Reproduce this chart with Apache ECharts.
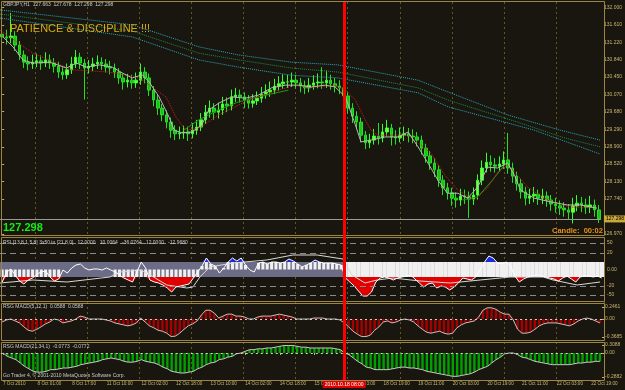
<!DOCTYPE html>
<html><head><meta charset="utf-8">
<script src="https://cdn.jsdelivr.net/npm/echarts@6/dist/echarts.min.js"></script>
<style>html,body{margin:0;padding:0;background:#19160f;}#c{width:625px;height:390px;}</style>
</head><body><div id="c"></div><script>
// ---------- data ----------
const timeLabels = ['7 Oct 2010','8 Oct 01:00','8 Oct 17:00','11 Oct 10:00','12 Oct 02:00','12 Oct 18:00','13 Oct 10:00','14 Oct 02:00','14 Oct 18:00','15 Oct 10:00','18 Oct 03:00','18 Oct 19:00','19 Oct 11:00','20 Oct 03:00','20 Oct 19:00','21 Oct 11:00','22 Oct 03:00','22 Oct 19:00'];
const firstOpen = 131.40;
const closes = [
131.34,131.32,131.36,131.16,130.94,130.78,130.74,130.78,130.81,130.76,
130.83,130.76,130.69,130.56,130.50,130.61,130.74,130.89,130.76,130.65,
130.69,130.74,130.78,130.74,130.67,130.65,130.56,130.43,130.34,130.38,
130.32,130.38,130.56,130.43,130.16,129.94,129.76,129.61,129.45,129.27,
129.19,129.21,129.23,129.19,129.27,129.34,129.50,129.67,129.76,129.67,
129.72,129.85,129.81,130.01,130.05,130.01,129.94,129.87,129.92,129.98,
130.07,130.12,130.16,130.25,130.30,130.34,130.34,130.38,130.32,130.25,
130.21,130.27,130.32,130.34,130.32,130.38,130.30,130.25,130.21,130.03,
129.76,129.58,129.45,129.16,128.99,129.05,129.14,129.10,129.23,129.32,
129.12,129.10,129.16,129.19,129.14,129.12,129.05,128.87,128.70,128.54,
128.39,128.16,127.99,127.88,127.76,127.72,127.81,127.79,127.74,127.83,
128.16,128.43,128.56,128.50,128.47,128.52,128.61,128.43,128.25,128.08,
127.90,127.76,127.81,127.85,127.76,127.81,127.72,127.63,127.59,127.54,
127.50,127.45,127.59,127.65,127.61,127.56,127.61,127.50,127.30];
const highs = [
131.54,131.50,131.87,131.47,131.25,131.04,130.91,130.95,130.97,130.93,
131.00,130.95,130.87,130.79,130.67,130.75,130.90,131.05,130.99,130.85,
130.83,130.88,130.93,130.89,130.85,130.81,130.75,130.65,130.53,130.52,
130.50,130.55,130.75,130.67,130.53,130.25,130.05,129.85,129.71,129.55,
129.38,129.35,129.37,129.35,129.43,129.50,129.65,129.83,129.93,129.87,
129.88,130.01,130.00,130.17,130.21,130.17,130.11,130.05,130.07,130.13,
130.23,130.29,130.35,130.41,130.47,130.51,130.50,130.55,130.50,130.43,
130.37,130.43,130.49,130.53,130.67,130.60,130.50,130.43,130.38,130.31,
130.13,129.87,129.69,129.55,129.25,129.19,129.30,129.43,129.41,129.50,
129.41,129.27,129.33,129.35,129.32,129.29,129.23,129.15,128.97,128.81,
128.65,128.49,128.27,128.10,127.99,127.89,127.97,127.95,127.91,128.00,
128.29,128.60,128.77,128.71,128.65,128.69,128.80,129.21,128.55,128.35,
128.19,128.01,127.97,128.01,127.95,127.97,127.91,127.83,127.77,127.71,
127.67,127.63,127.77,127.83,127.79,127.75,127.81,127.73,127.61];
const lows = [
131.19,131.17,131.20,131.03,130.83,130.65,130.60,130.63,130.67,130.61,
130.67,130.63,130.55,130.43,130.39,130.41,130.52,130.65,130.63,129.95,
130.53,130.58,130.63,130.61,130.55,130.51,130.43,130.30,130.17,130.22,
130.19,130.21,130.28,130.31,130.03,129.80,129.61,129.47,129.31,129.10,
129.05,129.07,129.08,129.03,129.09,129.17,129.25,129.41,129.55,129.50,
129.53,129.61,129.67,129.71,129.90,129.88,129.76,129.75,129.77,129.83,
129.88,129.97,130.01,130.07,130.15,130.19,130.21,130.23,130.19,130.11,
130.07,130.11,130.17,130.20,130.19,130.21,130.17,130.11,130.07,129.90,
129.63,129.43,129.29,129.00,128.85,128.87,128.95,128.95,129.00,129.13,
128.93,128.95,129.00,129.03,129.00,128.98,128.91,128.73,128.55,128.39,
128.23,128.01,127.83,127.73,127.59,127.55,127.59,127.63,127.32,127.61,
127.73,128.05,128.33,128.35,128.33,128.35,128.41,128.30,128.10,127.93,
127.75,127.60,127.63,127.67,127.61,127.63,127.57,127.48,127.44,127.39,
127.35,127.29,127.20,127.47,127.45,127.41,127.43,127.35,127.21];
const currentPrice = 127.298;
const priceTicks = [132.000,131.610,131.220,130.840,130.450,130.070,129.680,129.290,128.900,128.520,128.130,127.740,126.970];
// moving averages, read as [bar position, price]
const grayMA = [[0.2,131.34],[2.5,131.12],[4.8,130.83],[7.1,130.76],[11,130.78],[14.9,130.65],[17.2,130.76],[19.5,130.67],[22.5,130.72],[25.5,130.67],[27.8,130.54],[30.1,130.43],[32.4,130.50],[34,130.34],[36.3,130.01],[38.6,129.56],[39.8,129.27],[41.6,129.21],[43.9,129.23],[46.2,129.39],[47.8,129.72],[50.1,129.87],[53.1,130.01],[56.3,129.98],[59.3,130.05],[62.3,130.21],[65.5,130.27],[68.5,130.27],[71.5,130.23],[74.7,130.27],[77,130.23],[79.4,130.01],[81.7,129.39],[83,129.01],[85.3,129.05],[88.6,129.12],[91.6,129.12],[93.9,129.23],[96.2,128.90],[98.5,128.54],[100.8,128.16],[103,127.87],[105.4,127.87],[107.7,127.76],[110,128.01],[112.3,128.45],[114.6,128.43],[116.9,128.54],[118.5,128.27],[119.9,127.94],[123.1,127.76],[126.8,127.68],[130.7,127.61],[133.7,127.61],[137.6,127.54]];
const redMA = [[-0.5,131.49],[7.1,130.98],[16.3,130.61],[24.8,130.56],[31.7,130.43],[37.9,130.01],[40.2,129.56],[42.5,129.27],[45.5,129.32],[50.1,129.61],[57,129.94],[63.9,130.16],[67.8,130.27],[70.8,130.21],[77,130.27],[79.4,130.16],[81.7,129.94],[84,129.50],[85.3,129.27],[86.9,129.16],[93.8,129.16],[96.2,128.99],[99.2,128.76],[102.4,128.27],[105.4,127.94],[109.3,127.72],[112.3,127.99],[114.6,128.34],[116.9,128.50],[119.2,128.27],[121.5,128.01],[125.4,127.76],[128.4,127.65],[131.4,127.56],[136.9,127.56]];
const greenMA1 = [[42,129.27],[45.5,129.50],[50.1,129.72],[54.7,129.90],[59.3,130.01],[66.2,130.16]];
const greenMA2 = [[106.5,127.72],[110,127.79],[113.4,128.16],[116.2,128.50]];
const envelope1 = [[-0.5,131.94],[30.1,131.61],[45.5,131.12],[54.7,130.94],[66.9,130.78],[77.7,130.72],[96.2,130.38],[103.1,130.12],[116.9,129.61],[129.1,129.27],[138.3,129.05]];
const envelope2 = [[-0.5,131.85],[30.1,131.47],[45.5,130.98],[54.7,130.83],[66.9,130.65],[77.7,130.56],[96.2,130.21],[103.1,129.94],[119.2,129.45],[130,129.10],[138.3,128.90]];
const envelope3 = [[-0.5,131.76],[30.1,131.34],[45.5,130.83],[54.7,130.67],[66.9,130.49],[77.7,130.43],[96.2,130.10],[103.1,129.79],[123.1,129.27],[138.3,128.74]];
// RSI panel
const rsi = [
-25,-5,1,-11,-23,-29,-21,-17,-9,-5,
-3,-15,-23,-19,-1,-7,3,9,11,3,
-1,1,1,-1,3,-1,-5,-11,-17,-21,
-25,-5,15,3,-21,-25,-27,-31,-37,-45,
-35,-33,-31,-29,-17,-5,7,23,11,7,
-7,3,15,23,17,23,9,-1,-5,13,
15,11,15,15,13,15,21,17,11,5,
9,13,19,15,13,13,13,11,9,-17,
-25,-33,-43,-53,-53,-45,-25,-17,-15,-17,
-21,-17,-15,-13,-11,-19,-27,-35,-29,-27,
-37,-33,-35,-41,-35,-27,-17,-19,-21,-15,
-1,15,27,23,13,11,15,7,-13,-25,
-19,-15,-13,-11,-13,-15,-17,-19,-23,-17,
-13,-19,-25,-15,-13,-13,-15,-13,-17];
const rsiBarTop = [
0,0,0,0,0,0,0,0,0,0, 0,0,0,0,0,0,0,0,0,0, 0,0,0,0,0,0,0,0,0,0, 0,0,0,0,0,0,0,0,0,0,
0,0,0,0,0,0,7,15,11,7, 0,3,15,15,15,15,9,0,0,13, 15,11,15,15,13,15,15,15,11,5, 9,13,15,15,13,13,13,11,9,15,
15,15,15,15,15,15,15,15,15,15, 15,15,15,15,15,15,15,15,15,15, 15,15,15,15,15,15,15,15,15,15,
15,15,15,15,15,15,15,15,15,15, 15,15,15,15,15,15,15,15,15,15, 15,15,15,15,15,15,15,15,15];
const rsiBarBot = [
-15,-15,-15,-15,-15,-15,-15,-15,-15,-15, -15,-15,-15,-15,0,0,0,0,0,0, 0,0,0,0,0,0,-15,-15,-15,-15,
-15,-15,-15,-15,-15,-15,-15,-15,-15,-15, -15,-15,-15,-15,-15,-15,0,0,0,0, 0,0,0,0,0,0,0,0,0,0,
0,0,0,0,0,0,0,0,0,0, 0,0,0,0,0,0,0,0,0,-15,
-15,-15,-15,-15,-15,-15,-15,-15,-15,-15, -15,-15,-15,-15,-15,-15,-15,-15,-15,-15, -15,-15,-15,-15,-15,-15,-15,-15,-15,-15,
-15,-15,-15,-15,-15,-15,-15,-15,-15,-15, -15,-15,-15,-15,-15,-15,-15,-15,-15,-15, -15,-15,-15,-15,-15,-15,-15,-15,-15];
const rsiSignal = [[-0.5,-27],[7.1,-21],[14.9,-25],[24.8,-15],[27.1,-5],[31.7,-1],[33.3,-7],[37.9,-31],[42.5,-37],[43.9,-35],[45.5,-15],[47.8,5],[53.1,13],[60.9,19],[66.9,29],[72.5,29],[78.4,21],[80.5,-11],[83.5,-27],[86.3,-21],[89.9,-17],[96.2,-23],[103.1,-27],[110,-21],[116.9,-15],[124.5,-15],[126.8,-21],[132.3,-31],[137.6,-25]];
const rsiLevels = [53,33,-33,-51];
const rsiTickValues = [53,33,0,-33,-51];
const rsiTickLabels = ['50','20','0.00','-20','-50'];
// MACD panels
const macdFast = [
-0.06,-0.02,0.00,-0.04,-0.08,-0.16,-0.23,-0.25,-0.21,-0.16,
-0.10,-0.06,0.00,-0.02,-0.08,-0.06,-0.04,0.00,0.06,0.04,
0.00,0.00,0.00,0.00,-0.02,-0.04,-0.08,-0.10,-0.12,-0.14,
-0.12,-0.08,0.02,-0.06,-0.14,-0.18,-0.23,-0.25,-0.29,-0.36,
-0.35,-0.29,-0.21,-0.14,-0.10,-0.04,0.08,0.18,0.18,0.12,
0.02,0.06,0.10,0.10,0.06,0.06,0.04,0.00,0.00,0.04,
0.06,0.06,0.06,0.08,0.10,0.08,0.06,0.04,0.00,0.00,
0.00,0.00,0.02,0.02,0.02,0.00,0.00,0.00,-0.02,-0.08,
-0.16,-0.25,-0.31,-0.36,-0.36,-0.33,-0.23,-0.16,-0.06,-0.04,
-0.08,-0.06,-0.02,0.00,-0.02,-0.06,-0.14,-0.21,-0.27,-0.29,
-0.27,-0.25,-0.29,-0.31,-0.29,-0.18,-0.12,-0.08,-0.06,-0.04,
0.04,0.18,0.23,0.23,0.20,0.14,0.10,0.10,-0.02,-0.21,
-0.29,-0.29,-0.27,-0.21,-0.14,-0.10,-0.08,-0.08,-0.08,-0.10,
-0.12,-0.14,-0.10,-0.04,0.00,0.02,0.00,-0.04,-0.08];
const macdSlow = [
0.00,-0.04,-0.06,-0.08,-0.12,-0.16,-0.19,-0.22,-0.23,-0.23,
-0.22,-0.20,-0.20,-0.19,-0.18,-0.18,-0.17,-0.16,-0.14,-0.13,
-0.12,-0.11,-0.10,-0.08,-0.07,-0.06,-0.07,-0.08,-0.10,-0.11,
-0.11,-0.10,-0.08,-0.10,-0.11,-0.12,-0.14,-0.17,-0.19,-0.22,
-0.23,-0.24,-0.24,-0.23,-0.22,-0.19,-0.17,-0.14,-0.12,-0.11,
-0.08,-0.07,-0.05,-0.04,-0.01,0.00,0.02,0.04,0.04,0.05,
0.05,0.06,0.06,0.07,0.08,0.09,0.09,0.09,0.08,0.07,
0.07,0.06,0.06,0.06,0.06,0.06,0.06,0.05,0.04,0.00,
-0.02,-0.06,-0.10,-0.13,-0.17,-0.18,-0.20,-0.20,-0.20,-0.20,
-0.19,-0.18,-0.17,-0.17,-0.18,-0.18,-0.19,-0.20,-0.22,-0.23,
-0.24,-0.25,-0.26,-0.27,-0.28,-0.28,-0.27,-0.26,-0.25,-0.23,
-0.20,-0.18,-0.16,-0.12,-0.08,-0.05,-0.01,0.00,0.00,-0.02,
-0.05,-0.06,-0.08,-0.10,-0.11,-0.12,-0.13,-0.14,-0.14,-0.14,
-0.14,-0.14,-0.13,-0.12,-0.12,-0.11,-0.11,-0.10,-0.10];
const macdFastTicks = [0.2461,0,-0.3685];
const macdFastLabels = ['0.2461','0.00','-0.3685'];
const macdSlowTicks = [0.096,0,-0.2882];
const macdSlowLabels = ['0.3088','0.00','-0.2882'];
const redLineBar = 78.7;
const redLineLabel = '2010.10.18 08:00';

// ---------- chart ----------
const N = closes.length;
const categories = closes.map((_, i) => 'b' + i);
const candleData = closes.map((c, i) => [i === 0 ? firstOpen : closes[i - 1], c, lows[i], highs[i]]);
const FONT = 'Liberation Sans';
const GOLD = '#c9b66e', FRAME = '#9a8642', GRIDC = '#66581f';
const every8 = (i) => i % 8 === 0;
const every12 = (i) => i > 0 && (i - 8) % 12 === 0;

function catAxis(g, extra) {
  return Object.assign({type: 'category', gridIndex: g, data: categories, boundaryGap: true,
    axisLine: {show: false}, axisTick: {show: false}, axisLabel: {show: false}, splitLine: {show: false}}, extra || {});
}
function valX(g) { return {type: 'value', gridIndex: g, min: -0.5, max: N - 0.5, show: false}; }
function rightAxis(g, min, max, ticks, fmt) {
  return {type: 'value', gridIndex: g, position: 'right', min: min, max: max, scale: true,
    axisLine: {show: false}, splitLine: {show: false},
    axisTick: {show: true, customValues: ticks, length: 2, lineStyle: {color: GOLD}},
    axisLabel: {customValues: ticks, formatter: fmt, color: GOLD, fontSize: 5, fontFamily: FONT, margin: 3}};
}

const option = {
  backgroundColor: '#19160f',
  animation: false,
  grid: [
    {left: 0, top: 2, width: 604, height: 234},
    {left: 0, top: 239.5, width: 604, height: 60},
    {left: 0, top: 307, width: 604, height: 30},
    {left: 0, top: 345, width: 604, height: 32},
    {left: 0, top: 2, width: 604, height: 378}
  ],
  xAxis: [
    catAxis(0), catAxis(1), catAxis(2),
    catAxis(3, {axisLabel: {show: true, interval: every8, formatter: (v, i) => timeLabels[i / 8], align: 'left',
      color: GOLD, fontSize: 4.6, fontFamily: FONT, margin: 4},
      axisTick: {show: true, interval: every8, alignWithLabel: true, length: 2, lineStyle: {color: GOLD}}}),
    catAxis(4, {splitLine: {show: true, interval: every12, lineStyle: {color: GRIDC, type: [2, 3], width: 1}}}),
    valX(0), valX(4), valX(1)
  ],
  yAxis: [
    rightAxis(0, 126.921, 132.116, priceTicks, v => v.toFixed(3)),
    rightAxis(1, -60, 60, rsiTickValues, v => rsiTickLabels[rsiTickValues.indexOf(v)]),
    rightAxis(2, -0.3685, 0.2461, macdFastTicks, v => macdFastLabels[macdFastTicks.indexOf(v)]),
    rightAxis(3, -0.2882, 0.096, macdSlowTicks, v => macdSlowLabels[macdSlowTicks.indexOf(v)]),
    {type: 'value', gridIndex: 4, min: 0, max: 1, show: false}
  ],
  series: [
    // envelopes
    {type: 'line', xAxisIndex: 5, yAxisIndex: 0, data: envelope1, symbol: 'none', lineStyle: {color: '#2aa8b8', width: 1, type: 'dotted'}},
    {type: 'line', xAxisIndex: 5, yAxisIndex: 0, data: envelope2, symbol: 'none', lineStyle: {color: '#1f8a4a', width: 1, type: 'dotted'}},
    {type: 'line', xAxisIndex: 5, yAxisIndex: 0, data: envelope3, symbol: 'none', lineStyle: {color: '#2aa8b8', width: 1, type: 'dotted'}},
    // candles
    {type: 'candlestick', xAxisIndex: 0, yAxisIndex: 0, data: candleData, barWidth: 3,
      itemStyle: {color: '#7dff3a', color0: '#1fbf1f', borderColor: '#33ff33', borderColor0: '#22e022', borderWidth: 1},
      markLine: {silent: true, symbol: ['none', 'none'], data: [{yAxis: currentPrice}],
        lineStyle: {color: '#9a9a9a', width: 1, type: 'solid'},
        label: {show: true, position: 'end', distance: 3, formatter: currentPrice.toFixed(3), color: '#000', backgroundColor: '#c9a93a',
          fontSize: 5, fontFamily: FONT, padding: [1, 2]}}},
    {type: 'line', xAxisIndex: 5, yAxisIndex: 0, data: greenMA1, symbol: 'none', lineStyle: {color: '#1c9a1c', width: 1}},
    {type: 'line', xAxisIndex: 5, yAxisIndex: 0, data: greenMA2, symbol: 'none', lineStyle: {color: '#1c9a1c', width: 1}},
    {type: 'line', xAxisIndex: 5, yAxisIndex: 0, data: redMA, symbol: 'none', lineStyle: {color: '#d81818', width: 1, type: 'dotted'}},
    {type: 'line', xAxisIndex: 5, yAxisIndex: 0, data: grayMA, symbol: 'none', lineStyle: {color: '#b8b8b8', width: 1}},
    // RSI band + levels
    {type: 'line', xAxisIndex: 1, yAxisIndex: 1, data: [], symbol: 'none',
      markArea: {silent: true, itemStyle: {color: '#6c6c86'}, data: [[{yAxis: 15}, {yAxis: -15}]]},
      markLine: {silent: true, symbol: ['none', 'none'], label: {show: false},
        lineStyle: {color: '#8a8a8a', width: 1, type: [6, 4]}, data: rsiLevels.map(v => ({yAxis: v}))}},
    {type: 'custom', xAxisIndex: 1, yAxisIndex: 1, data: rsi.map((_, i) => [i, rsiBarTop[i], rsiBarBot[i]]),
      encode: {x: 0, y: [1, 2]},
      renderItem: (params, api) => {
        const top = api.value(1), bot = api.value(2);
        const a = api.coord([api.value(0), top]);
        const b = api.coord([api.value(0), bot]);
        const w = (top > 0 && bot < 0) ? 4.5 : 3;
        return {type: 'rect', shape: {x: a[0] - w / 2, y: a[1], width: w, height: b[1] - a[1]}, style: {fill: '#f0f0f0'}};
      }},
    {type: 'line', xAxisIndex: 1, yAxisIndex: 1, data: rsi.map(v => Math.min(v, -15)), symbol: 'none',
      lineStyle: {width: 0}, areaStyle: {origin: -15, color: '#e00000', opacity: 1}},
    {type: 'line', xAxisIndex: 1, yAxisIndex: 1, data: rsi.map(v => Math.max(v, 15)), symbol: 'none',
      lineStyle: {width: 0}, areaStyle: {origin: 15, color: '#1a2ad8', opacity: 1}},
    {type: 'line', xAxisIndex: 7, yAxisIndex: 1, data: rsiSignal, symbol: 'none', lineStyle: {color: '#d8d8d8', width: 1}},
    {type: 'line', xAxisIndex: 1, yAxisIndex: 1, data: rsi, symbol: 'none', lineStyle: {color: '#ffffff', width: 1}},
    // MACD fast
    {type: 'bar', xAxisIndex: 2, yAxisIndex: 2, data: macdFast, barWidth: 2.4, itemStyle: {color: '#a80000'},
      markLine: {silent: true, symbol: ['none', 'none'], label: {show: false}, data: [{yAxis: 0}],
        lineStyle: {color: '#cfcfcf', width: 1, type: [2, 3]}}},
    {type: 'line', xAxisIndex: 2, yAxisIndex: 2, data: macdFast, symbol: 'none', lineStyle: {color: '#c8c0c0', width: 1}},
    // MACD slow
    {type: 'bar', xAxisIndex: 3, yAxisIndex: 3, data: macdSlow, barWidth: 2.4, itemStyle: {color: '#00a000'},
      markLine: {silent: true, symbol: ['none', 'none'], label: {show: false}, data: [{yAxis: 0}],
        lineStyle: {color: '#cfcfcf', width: 1, type: [2, 3]}}},
    {type: 'line', xAxisIndex: 3, yAxisIndex: 3, data: macdSlow, symbol: 'none', lineStyle: {color: '#c8c8c8', width: 1}},
    // red vertical line
    {type: 'line', xAxisIndex: 6, yAxisIndex: 4, data: [[redLineBar, 0.5]], symbol: 'none', lineStyle: {opacity: 0}, z: 10,
      markLine: {silent: true, symbol: ['none', 'none'], data: [{xAxis: redLineBar}],
        lineStyle: {color: '#ff0000', width: 3, type: 'solid'},
        label: {show: true, position: 'start', distance: 1, formatter: redLineLabel, color: '#ffffff', backgroundColor: '#e00000',
          fontSize: 5, fontFamily: FONT, padding: [1, 2]}}}
  ],
  graphic: [
    {type: 'rect', silent: true, z: 5, shape: {x: 1.5, y: 1.5, width: 603, height: 234}, style: {fill: 'none', stroke: FRAME, lineWidth: 1}},
    {type: 'rect', silent: true, z: 5, shape: {x: 1.5, y: 237.5, width: 603, height: 64}, style: {fill: 'none', stroke: FRAME, lineWidth: 1}},
    {type: 'rect', silent: true, z: 5, shape: {x: 1.5, y: 303.5, width: 603, height: 37}, style: {fill: 'none', stroke: FRAME, lineWidth: 1}},
    {type: 'rect', silent: true, z: 5, shape: {x: 1.5, y: 342.5, width: 603, height: 38}, style: {fill: 'none', stroke: FRAME, lineWidth: 1}},
    {type: 'text', silent: true, z: 6, x: 3, y: 2.5, style: {text: 'GBPJPY,H1  127.663  127.678  127.298  127.298', fill: '#c8c8c8', font: '5px "Liberation Sans"'}},
    {type: 'text', silent: true, z: 6, x: 10, y: 23, style: {text: 'PATIENCE & DISCIPLINE !!!', fill: '#d6aa12', font: '11px "Liberation Sans"'}},
    {type: 'text', silent: true, z: 6, x: 3, y: 222, style: {text: '127.298', fill: '#11ee11', font: 'bold 11px "Liberation Sans"'}},
    {type: 'text', silent: true, z: 6, x: 552, y: 227, style: {text: 'Candle:  00:02', fill: '#e8921c', font: 'bold 7.5px "Liberation Sans"'}},
    {type: 'text', silent: true, z: 6, x: 3, y: 240, style: {text: 'RSI [13,8,1,5,8] 3x50 in [21,8,0]   12.0000   10.0064   -36.0764   12.0000   -12.9680', fill: '#c8c8c8', font: '5px "Liberation Sans"'}},
    {type: 'text', silent: true, z: 6, x: 3, y: 304.5, style: {text: 'RSG MACD(5,12,1)  0.0588  0.0588', fill: '#c8c8c8', font: '5px "Liberation Sans"'}},
    {type: 'text', silent: true, z: 6, x: 3, y: 344.5, style: {text: 'RSG MACD(21,34,1)  -0.0773  -0.0772', fill: '#c8c8c8', font: '5px "Liberation Sans"'}},
    {type: 'text', silent: true, z: 6, x: 3, y: 373.5, style: {text: 'Go Trader 4, \u00a9 2001-2010 MetaQuotes Software Corp.', fill: '#c8c8c8', font: '5px "Liberation Sans"'}}
  ]
};
const chart = echarts.init(document.getElementById('c'));
chart.setOption(option);
</script></body></html>
